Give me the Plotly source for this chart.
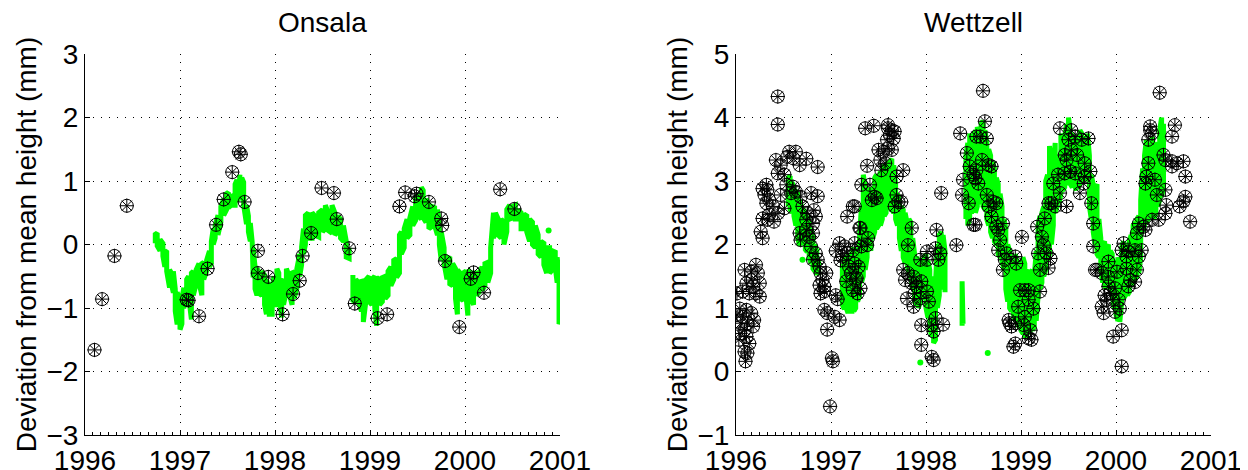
import plotly.graph_objects as go

# ---------------- data ----------------
x_ticks = [1996, 1997, 1998, 1999, 2000, 2001]
x_tick_text = ["1996", "1997", "1998", "1999", "2000", "2001"]
onsala_yticks = [-3, -2, -1, 0, 1, 2, 3]
wettzell_yticks = [-1, 0, 1, 2, 3, 4, 5]
titles = ["Onsala", "Wettzell"]
y_title = "Deviation from mean height (mm)"

# Onsala: green series, daily spread given as low / high per sample (None = gap)
onsala_line_year = [
    1996.74, 1996.76, 1996.79, 1996.82, 1996.84, 1996.86, 1996.89, 1996.91, 1996.93, 1996.95,
    1996.97, 1997.00, 1997.02, 1997.04, 1997.07, 1997.09, 1997.12, 1997.14, 1997.17, 1997.20,
    1997.23, 1997.25, 1997.28, 1997.31, 1997.33, 1997.35, 1997.37, 1997.40, 1997.43, 1997.46,
    1997.49, 1997.51, 1997.54, 1997.56, 1997.58, 1997.60, 1997.62, 1997.63, 1997.65, 1997.67,
    1997.70, 1997.72, 1997.74, 1997.76, 1997.77, 1997.79, 1997.81, 1997.84, 1997.86, 1997.89,
    1997.91, 1997.94, 1997.97, 1997.99, 1998.02, 1998.04, 1998.07, 1998.09, 1998.12, 1998.15,
    1998.18, 1998.20, 1998.23, 1998.26, 1998.28, 1998.30, 1998.32, 1998.35, 1998.39, 1998.42,
    1998.46, 1998.50, 1998.53, 1998.56, 1998.60, 1998.63, 1998.66, 1998.69, 1998.72, 1998.75,
    1998.78, None,
    1998.82, 1998.85, 1998.88, 1998.91, 1998.93, 1998.96, 1998.99, 1999.02, 1999.05, 1999.07,
    1999.10, 1999.13, 1999.16, 1999.19, 1999.22, 1999.25, 1999.28, 1999.31, 1999.33, 1999.36,
    1999.39, 1999.42, 1999.45, 1999.48, 1999.51, 1999.54, 1999.56, 1999.59, 1999.62, 1999.65,
    1999.68, 1999.71, 1999.73, 1999.75, 1999.78, 1999.81, 1999.84, 1999.87, 1999.90, 1999.92,
    1999.95, 1999.98, 2000.01, 2000.03, 2000.06, 2000.09, 2000.12, 2000.15, 2000.18, 2000.21,
    2000.24, 2000.27, 2000.30, 2000.32, 2000.35, 2000.38, 2000.41, 2000.44, 2000.47, 2000.50,
    2000.53, 2000.56, 2000.59, 2000.62, 2000.65, 2000.68, 2000.71, 2000.74, 2000.77, 2000.80,
    2000.83, 2000.86, 2000.89, 2000.92, 2000.95, 2000.97, 2000.99, 2001.01,
]
onsala_line_low = [
    0.02, -0.02, -0.10, -0.18, -0.35, -0.42, -0.68, -0.62, -0.76, -1.05,
    -1.26, -1.34, -1.25, -1.00, -0.85, -0.80, -1.18, -0.80, -0.62, -0.60,
    -0.80, -0.55, -0.42, -0.35, -0.30, 0.00, 0.10, 0.15, 0.35, 0.46,
    0.55, 0.58, 0.62, 0.62, 0.62, 0.68, 0.78, 0.82, 0.70, 0.62,
    0.32, 0.20, 0.05, -0.25, -0.52, -0.70, -0.80, -0.78, -0.80, -0.95,
    -1.10, -1.10, -1.10, -0.95, -0.95, -0.75, -1.15, -0.95, -0.72, -0.78,
    -0.95, -0.85, -0.70, -0.50, -0.32, -0.15, 0.00, 0.10, 0.10, 0.15,
    0.12, 0.20, 0.25, 0.22, 0.18, 0.15, 0.20, 0.10, 0.05, -0.20,
    -0.22, None,
    -0.88, -0.92, -0.90, -1.05, -1.22, -0.85, -0.90, -0.95, -1.00, -1.28,
    -0.95, -0.90, -0.85, -0.80, -0.65, -0.55, -0.52, -0.45, -0.15, -0.05,
    0.10, 0.15, 0.30, 0.38, 0.45, 0.40, 0.42, 0.35, 0.25, 0.28,
    0.30, 0.15, 0.00, -0.25, -0.30, -0.55, -0.62, -0.65, -0.85, -1.10,
    -0.85, -0.88, -0.80, -1.12, -0.85, -0.95, -0.80, -0.75, -0.72, -0.65,
    -0.60, -0.45, 0.10, 0.20, 0.15, 0.10, 0.00, 0.20, 0.40, 0.42,
    0.40, 0.40, 0.25, 0.25, 0.20, 0.05, 0.00, -0.05, -0.15, -0.20,
    -0.32, -0.45, -0.45, -0.40, -0.35, -0.60, -1.25, -1.20,
]
onsala_line_high = [
    0.16, 0.18, 0.08, 0.02, -0.10, -0.12, -0.40, -0.45, -0.42, -0.70,
    -0.75, -0.90, -0.85, -0.68, -0.55, -0.50, -0.45, -0.42, -0.40, -0.30,
    -0.30, -0.28, -0.25, -0.10, 0.05, 0.25, 0.30, 0.46, 0.60, 0.72,
    0.80, 0.82, 0.78, 0.76, 0.95, 1.02, 1.08, 1.10, 1.05, 0.98,
    0.62, 0.45, 0.34, 0.04, -0.05, -0.35, -0.38, -0.45, -0.42, -0.48,
    -0.55, -0.70, -0.68, -0.50, -0.38, -0.45, -0.58, -0.55, -0.38, -0.50,
    -0.42, -0.45, -0.38, -0.15, -0.04, 0.25, 0.46, 0.50, 0.50, 0.45,
    0.50, 0.55, 0.62, 0.50, 0.62, 0.50, 0.45, 0.40, 0.30, 0.05,
    -0.05, None,
    -0.48, -0.55, -0.60, -0.55, -0.60, -0.55, -0.50, -0.55, -0.50, -0.52,
    -0.55, -0.52, -0.50, -0.42, -0.35, -0.25, -0.22, 0.15, 0.20, 0.25,
    0.40, 0.42, 0.60, 0.72, 0.80, 0.90, 0.85, 0.72, 0.62, 0.60,
    0.58, 0.55, 0.35, 0.20, -0.05, -0.20, -0.22, -0.30, -0.38, -0.40,
    -0.45, -0.45, -0.42, -0.40, -0.45, -0.45, -0.45, -0.45, -0.35, -0.30,
    -0.28, -0.05, 0.50, 0.50, 0.40, 0.40, 0.35, 0.55, 0.62, 0.60,
    0.62, 0.55, 0.50, 0.48, 0.45, 0.40, 0.35, 0.30, 0.15, 0.05,
    0.02, -0.05, -0.05, -0.10, -0.12, -0.20, -0.50, -0.90,
]
onsala_dot_year = [2000.88]
onsala_dot_value = [0.22]

# Onsala: black marker series
onsala_mark_year = [
    1996.10, 1996.18, 1996.31, 1996.44, 1997.07, 1997.09, 1997.20, 1997.29, 1997.38, 1997.46,
    1997.55, 1997.62, 1997.64, 1997.68, 1997.82, 1997.82, 1997.93, 1998.08, 1998.19, 1998.26,
    1998.29, 1998.38, 1998.49, 1998.62, 1998.65, 1998.78, 1998.84, 1999.08, 1999.18, 1999.31,
    1999.37, 1999.47, 1999.49, 1999.62, 1999.75, 1999.76, 1999.79, 1999.94, 2000.06, 2000.09,
    2000.20, 2000.37, 2000.52,
]
onsala_mark_value = [
    -1.66, -0.86, -0.18, 0.61, -0.87, -0.88, -1.13, -0.38, 0.31, 0.71,
    1.14, 1.46, 1.42, 0.67, -0.10, -0.45, -0.51, -1.10, -0.78, -0.57,
    -0.18, 0.18, 0.89, 0.81, 0.40, -0.06, -0.93, -1.16, -1.10, 0.60,
    0.82, 0.76, 0.80, 0.67, 0.41, 0.30, -0.26, -1.30, -0.54, -0.44,
    -0.76, 0.87, 0.56,
]

# Wettzell: green series (low / high per sample, None = gap)
wettzell_line_year = [
    1996.55, 1996.57, 1996.59, 1996.61, 1996.63, 1996.65, 1996.67, 1996.69, 1996.71, 1996.73,
    1996.75, 1996.77, 1996.79, 1996.81, 1996.83, 1996.85, 1996.87, None,
    1997.12, 1997.14, 1997.16, 1997.18, 1997.20, 1997.22, 1997.24, 1997.26, 1997.28, 1997.30,
    1997.32, 1997.34, 1997.36, 1997.38, 1997.40, 1997.42, 1997.44, 1997.46, 1997.48, 1997.50,
    1997.52, 1997.54, 1997.56, 1997.58, 1997.60, 1997.62, 1997.64, 1997.66, 1997.68, 1997.70,
    1997.72, 1997.74, 1997.76, 1997.78, 1997.80, 1997.82, 1997.84, 1997.86, 1997.88, 1997.90,
    1997.92, 1997.94, 1997.96, 1997.98, 1998.00, 1998.02, 1998.04, 1998.06, 1998.08, 1998.10,
    1998.12, 1998.14, 1998.16, 1998.18, 1998.20, None,
    1998.38, 1998.39, None,
    1998.42, 1998.44, 1998.46, 1998.48, 1998.50, 1998.52, 1998.54, 1998.56, 1998.58, 1998.60,
    1998.62, 1998.64, 1998.66, 1998.68, 1998.70, 1998.72, 1998.74, 1998.76, 1998.78, 1998.80,
    1998.82, 1998.84, 1998.86, 1998.88, 1998.90, 1998.92, 1998.94, 1998.96, 1998.98, 1999.00,
    1999.02, 1999.04, 1999.06, 1999.08, 1999.10, 1999.12, 1999.14, 1999.16, 1999.18, 1999.20,
    1999.22, 1999.24, 1999.26, 1999.28, 1999.30, 1999.32, 1999.34, 1999.36, 1999.38, 1999.40,
    1999.42, 1999.44, 1999.46, 1999.48, 1999.50, 1999.52, 1999.54, 1999.56, 1999.58, 1999.60,
    1999.62, 1999.64, 1999.66, 1999.68, 1999.70, 1999.72, 1999.74, 1999.76, 1999.78, 1999.80,
    1999.82, 1999.84, 1999.86, 1999.88, 1999.90, 1999.92, 1999.94, 1999.96, 1999.98, 2000.00,
    2000.02, 2000.04, 2000.06, 2000.08, 2000.10, 2000.12, 2000.14, 2000.16, 2000.18, 2000.20,
    2000.22, 2000.24, 2000.26, 2000.28, 2000.30, 2000.32, 2000.34, 2000.36, 2000.38, 2000.40,
    2000.42, 2000.44, 2000.46, 2000.48, 2000.50,
]
wettzell_line_low = [
    2.60, 2.55, 2.50, 2.45, 2.30, 2.10, 1.98, 2.05, 2.00, 1.92,
    1.88, 1.80, 1.70, 1.62, 1.58, 1.55, 1.55, None,
    1.05, 0.98, 1.00, 0.92, 0.95, 0.95, 0.95, 1.00, 1.10, 1.20,
    1.40, 1.50, 1.60, 1.80, 2.00, 1.90, 2.10, 2.20, 2.25, 2.30,
    2.30, 2.40, 2.45, 2.50, 2.55, 2.60, 2.55, 2.50, 2.40, 2.30,
    2.10, 1.90, 1.80, 1.70, 1.70, 1.55, 1.50, 1.30, 1.10, 1.05,
    1.00, 1.10, 1.20, 1.15, 1.00, 0.85, 0.70, 0.55, 0.45, 0.50,
    1.00, 1.20, 1.30, 1.40, 1.25, None,
    0.72, 0.75, None,
    2.40, 2.30, 2.40, 2.50, 2.55, 2.50, 2.60, 2.70, 2.65, 2.60,
    2.55, 2.40, 2.30, 2.20, 2.10, 2.05, 2.00, 1.85, 1.80, 1.75,
    1.60, 1.30, 1.10, 1.00, 0.95, 0.90, 0.80, 0.75, 0.70, 0.65,
    0.60, 0.55, 0.55, 0.60, 0.65, 0.65, 0.70, 0.80, 1.20, 1.30,
    1.40, 1.50, 1.60, 1.75, 1.85, 2.00, 2.30, 2.50, 2.60, 2.65,
    2.80, 2.85, 2.90, 2.95, 3.00, 2.95, 2.90, 2.95, 2.85, 2.90,
    2.95, 3.00, 3.05, 3.00, 3.10, 2.60, 2.40, 2.20, 2.00, 1.85,
    1.80, 1.60, 1.40, 1.35, 1.30, 1.35, 1.30, 1.20, 1.00, 0.90,
    0.80, 0.78, 1.10, 1.15, 1.20, 1.20, 1.25, 1.35, 1.40, 1.45,
    1.50, 1.55, 1.80, 2.20, 2.30, 2.35, 2.40, 2.45, 2.45, 2.40,
    2.50, 2.60, 2.70, 2.75, 2.90,
]
wettzell_line_high = [
    3.05, 3.08, 2.98, 2.90, 2.85, 2.80, 2.70, 2.60, 2.55, 2.50,
    2.45, 2.35, 2.25, 2.10, 2.00, 1.90, 1.75, None,
    1.70, 1.80, 1.75, 1.85, 1.80, 1.90, 1.95, 1.85, 1.95, 2.10,
    2.60, 3.10, 2.90, 2.75, 2.90, 2.80, 2.90, 3.05, 3.10, 3.00,
    3.15, 3.20, 3.25, 3.20, 3.30, 3.30, 3.35, 3.25, 2.95, 2.80,
    2.70, 2.60, 2.55, 2.50, 2.35, 2.40, 2.35, 2.10, 1.85, 1.80,
    1.75, 1.70, 1.75, 1.80, 1.85, 1.75, 1.60, 1.50, 1.20, 1.40,
    2.00, 2.15, 2.20, 2.15, 1.90, None,
    1.42, 1.40, None,
    3.40, 3.60, 3.75, 3.60, 3.70, 3.80, 3.85, 3.75, 3.90, 3.95,
    3.80, 3.60, 3.50, 3.40, 3.30, 3.20, 3.05, 2.95, 2.80, 2.60,
    2.40, 2.25, 2.00, 1.90, 1.80, 1.75, 1.85, 1.70, 1.65, 1.75,
    1.80, 1.70, 1.55, 1.60, 1.55, 1.60, 1.50, 1.90, 2.30, 2.45,
    2.50, 2.60, 3.00, 3.10, 3.55, 3.20, 3.25, 3.60, 3.30, 3.40,
    3.75, 3.55, 3.70, 3.90, 4.00, 3.80, 3.75, 3.60, 3.70, 3.55,
    3.80, 3.75, 3.70, 3.60, 3.75, 3.40, 3.10, 2.95, 2.90, 2.95,
    2.40, 2.10, 2.00, 2.05, 1.95, 2.00, 1.90, 1.85, 1.75, 1.70,
    1.80, 1.65, 1.95, 2.05, 1.95, 2.00, 2.05, 2.15, 2.30, 2.35,
    2.40, 2.45, 2.70, 3.20, 3.40, 3.65, 3.50, 3.60, 3.70, 3.40,
    3.55, 3.60, 3.80, 4.00, 3.90,
]
wettzell_dot_year = [1996.70, 1997.94, 1998.65]
wettzell_dot_value = [1.76, 0.14, 0.29]

# Wettzell: black marker series
wettzell_mark_year = [
    1996.44, 1996.44, 1996.56, 1996.63, 1996.54, 1996.60, 1996.42, 1996.47, 1996.44, 1996.51,
    1996.67, 1996.74, 1996.86, 1996.32, 1996.33, 1996.28, 1996.30, 1996.35, 1996.32, 1996.47,
    1996.53, 1996.60, 1996.58, 1996.63, 1996.68, 1996.79, 1996.86, 1996.39, 1996.51, 1996.44,
    1996.35, 1996.28, 1996.33, 1996.40, 1996.26, 1996.28, 1996.70, 1996.75, 1996.82, 1996.74,
    1996.81, 1996.84, 1996.67, 1996.74, 1996.68, 1996.77, 1996.81, 1996.79, 1996.84, 1996.81,
    1996.86, 1996.88, 1996.89, 1996.95, 1996.91, 1996.88, 1996.93, 1996.89, 1996.93, 1997.05,
    1997.07, 1996.93, 1996.96, 1997.04, 1997.09, 1996.96, 1997.01, 1997.02, 1996.99, 1996.09,
    1996.16, 1996.21, 1996.23, 1996.16, 1996.11, 1996.18, 1996.25, 1996.21, 1996.25, 1996.14,
    1996.07, 1996.01, 1996.04, 1996.11, 1996.16, 1996.19, 1996.07, 1996.05, 1996.12, 1996.18,
    1996.09, 1996.04, 1996.11, 1996.14, 1996.09, 1996.10, 1996.12, 1996.01, 1996.03,
    1997.09, 1997.14, 1997.12, 1997.17, 1997.23, 1997.19, 1997.21, 1997.16, 1997.23, 1997.28,
    1997.26, 1997.17, 1997.23, 1997.30, 1997.05, 1997.10,
    1997.36, 1997.45, 1997.60, 1997.64, 1997.62, 1997.66, 1997.59, 1997.67, 1997.60, 1997.50,
    1997.55, 1997.60, 1997.52, 1997.57, 1997.64, 1997.38, 1997.53, 1997.76, 1997.69, 1997.32,
    1997.41, 1997.46, 1997.43, 1997.48, 1997.69, 1997.71, 1997.74, 1997.67, 1997.25, 1997.31,
    1997.39, 1997.25, 1997.32, 1997.38, 1997.25, 1997.29, 1997.27, 1997.31, 1997.85, 1997.81,
    1997.76, 1997.81, 1997.87, 1997.94, 1998.01, 1997.78, 1997.85, 1997.90, 1997.95, 1997.88,
    1997.80, 1997.87, 1997.94, 1998.01, 1998.03, 1997.95, 1998.06, 1998.18, 1998.08, 1998.10,
    1997.95, 1998.06, 1998.08, 1998.11, 1998.10, 1998.15, 1998.13, 1998.01, 1998.32, 1998.16,
    1998.36, 1998.43, 1998.53, 1998.38, 1998.45, 1998.50, 1998.50, 1998.39, 1998.46,
    1998.60, 1998.62, 1998.57, 1998.64, 1998.59, 1998.66, 1998.69, 1998.53, 1998.52, 1998.55,
    1998.64, 1998.71, 1998.74, 1998.66, 1998.69, 1998.74, 1998.81, 1998.76, 1998.52, 1998.78,
    1998.76, 1998.83, 1998.81, 1998.85, 1998.94, 1998.95, 1999.01, 1998.87, 1998.90, 1998.94,
    1998.88, 1998.92, 1998.94, 1998.99, 1999.04, 1999.08, 1999.20, 1998.97, 1999.08, 1999.13,
    1999.04, 1999.10, 1999.11, 1999.08, 1999.03, 1999.17, 1999.22, 1999.25, 1999.24, 1999.18,
    1999.27, 1999.31, 1999.20, 1999.29, 1999.32, 1999.36, 1999.29, 1999.48, 1999.41, 1999.34,
    1999.39, 1999.46, 1999.52, 1999.57, 1999.66, 1999.62, 1999.67, 1999.73, 1999.41, 1999.53,
    1999.57, 1999.64, 1999.71, 1999.50, 1999.53, 1999.59, 1999.67, 1999.46, 1999.48, 1999.74,
    1999.76, 1999.76, 1999.78,
    2000.46, 2000.62, 2000.59, 2000.36, 2000.38, 2000.34, 2000.36, 2000.50, 2000.52, 2000.59,
    2000.64, 2000.71, 2000.59, 2000.73, 2000.34, 2000.32, 2000.31, 2000.41, 2000.43, 2000.52,
    2000.53, 2000.52, 2000.45, 2000.67, 2000.73, 2000.71, 2000.78, 2000.24, 2000.29, 2000.22,
    2000.31, 2000.38, 2000.08, 2000.13, 2000.20, 2000.27, 2000.11, 2000.24, 2000.06, 1999.92,
    1999.80, 1999.85, 2000.01, 2000.11, 2000.22, 1999.92, 2000.15, 2000.20, 2000.13, 1999.92,
    1999.99, 1999.94, 1999.90, 1999.97, 2000.03, 1999.88, 1999.85, 2000.04, 1999.99, 1999.87,
    2000.06, 1999.97, 2000.06,
]
wettzell_mark_value = [
    4.33, 3.89, 3.46, 3.46, 3.38, 3.36, 3.33, 3.25, 3.12, 3.10,
    3.25, 3.35, 3.22, 2.94, 2.86, 2.88, 2.78, 2.70, 2.65, 2.78,
    2.94, 2.91, 2.81, 2.83, 2.75, 2.81, 2.76, 2.60, 2.57, 2.49,
    2.47, 2.41, 2.39, 2.36, 2.20, 2.10, 2.60, 2.49, 2.54, 2.39,
    2.33, 2.44, 2.18, 2.23, 2.07, 2.12, 2.18, 1.97, 1.86, 1.76,
    1.76, 1.65, 1.55, 1.55, 1.44, 1.36, 1.34, 1.23, 1.26, 1.20,
    1.14, 0.97, 0.92, 0.86, 0.81, 0.66, 0.21, 0.16, -0.55, 1.60,
    1.57, 1.68, 1.55, 1.44, 1.39, 1.34, 1.39, 1.23, 1.18, 1.23,
    1.26, 1.23, 0.99, 0.97, 0.92, 0.81, 0.86, 0.76, 0.76, 0.71,
    0.65, 0.60, 0.55, 0.44, 0.31, 0.16, 0.29, 0.89, 0.50,
    2.02, 1.97, 1.81, 1.86, 1.91, 1.65, 1.55, 1.42, 1.28, 1.23,
    1.44, 2.44, 2.60, 2.26, 1.90, 1.75,
    3.83, 3.87, 3.83, 3.80, 3.72, 3.67, 3.65, 3.78, 3.88, 3.49,
    3.46, 3.51, 3.33, 3.28, 3.49, 3.24, 3.17, 3.17, 3.07, 2.94,
    2.94, 2.75, 2.70, 2.73, 2.78, 2.67, 2.67, 2.60, 2.60, 2.26,
    2.10, 2.02, 1.97, 1.99, 1.70, 1.65, 1.47, 1.31, 2.26, 1.99,
    1.60, 1.55, 1.49, 1.76, 1.76, 1.44, 1.39, 1.34, 1.42, 1.23,
    1.15, 1.02, 1.15, 1.26, 1.10, 0.73, 0.73, 0.74, 0.63, 0.84,
    0.42, 0.23, 0.18, 2.23, 1.94, 1.86, 1.76, 1.89, 1.99, 2.81,
    3.75, 3.44, 3.70, 2.78, 2.65, 3.10, 2.31, 3.02, 3.23,
    4.42, 3.94, 3.70, 3.67, 3.33, 3.25, 3.23, 3.17, 3.04, 2.96,
    2.78, 2.67, 2.65, 2.60, 2.44, 2.28, 2.33, 2.23, 2.31, 2.07,
    1.91, 1.76, 1.60, 1.86, 1.81, 1.70, 2.12, 0.81, 0.71, 0.76,
    0.76, 0.39, 0.44, 1.28, 1.28, 1.28, 1.26, 1.02, 1.13, 0.99,
    0.86, 0.65, 0.50, 0.52, 0.73, 2.28, 2.12, 2.41, 1.99, 1.86,
    1.86, 1.78, 1.60, 1.63, 2.65, 2.60, 2.65, 2.60, 2.81, 2.96,
    3.10, 3.12, 3.15, 3.12, 2.96, 2.81, 3.07, 3.15, 3.83, 3.80,
    3.70, 3.65, 3.67, 3.65, 3.49, 3.41, 3.28, 3.41, 3.33, 2.65,
    2.33, 1.97, 1.60,
    4.39, 3.88, 3.70, 3.80, 3.75, 3.65, 3.86, 3.41, 3.33, 3.31,
    3.28, 3.31, 3.23, 3.07, 3.28, 3.07, 2.96, 3.02, 2.78, 2.86,
    2.62, 2.49, 2.39, 2.60, 2.75, 2.68, 2.36, 2.33, 2.28, 2.18,
    2.23, 2.39, 2.02, 1.89, 1.91, 1.91, 1.81, 1.81, 1.91, 1.73,
    1.60, 1.55, 1.57, 1.62, 1.60, 1.49, 1.44, 1.41, 1.34, 1.34,
    1.31, 1.23, 1.13, 1.13, 1.13, 1.20, 1.02, 0.99, 0.94, 0.92,
    0.65, 0.55, 0.08,
]

# ---------------- figure ----------------
FONT = "Liberation Sans, Arial, Helvetica, sans-serif"
GREEN = "#00ff00"


def band_path(years, lows, highs):
    xs, ys = [], []
    k = 0
    for yr, lo, hi in zip(years, lows, highs):
        if yr is None:
            xs.append(None)
            ys.append(None)
            continue
        pair = (lo, hi) if k % 2 == 0 else (hi, lo)
        xs += [yr, yr]
        ys += list(pair)
        k += 1
    return xs, ys


fig = go.Figure()

panels = [
    ("x", "y", onsala_line_year, onsala_line_low, onsala_line_high,
     onsala_dot_year, onsala_dot_value, onsala_mark_year, onsala_mark_value),
    ("x2", "y2", wettzell_line_year, wettzell_line_low, wettzell_line_high,
     wettzell_dot_year, wettzell_dot_value, wettzell_mark_year, wettzell_mark_value),
]
for xa, ya, ly, llo, lhi, dy, dv, my, mv in panels:
    bx, by = band_path(ly, llo, lhi)
    fig.add_trace(go.Scatter(x=bx, y=by, xaxis=xa, yaxis=ya, mode="lines",
                             line=dict(color=GREEN, width=5), connectgaps=False,
                             showlegend=False, hoverinfo="skip"))
    fig.add_trace(go.Scatter(x=dy, y=dv, xaxis=xa, yaxis=ya, mode="markers",
                             marker=dict(color=GREEN, size=6), showlegend=False))
    fig.add_trace(go.Scatter(x=my, y=mv, xaxis=xa, yaxis=ya, mode="markers",
                             marker=dict(symbol="circle-open", size=13,
                                         color="black", line=dict(width=1, color="black")),
                             showlegend=False))
    fig.add_trace(go.Scatter(x=my, y=mv, xaxis=xa, yaxis=ya, mode="markers",
                             marker=dict(symbol="asterisk-open", size=12,
                                         color="black", line=dict(width=1, color="black")),
                             showlegend=False))

# The page body adds an 8 px margin, so the layout positions below are
# shifted by that amount (figure pixels = window pixels - 8).
OFF = 8
W, H = 1248, 470
common_x = dict(range=[x_ticks[0], x_ticks[-1]], tickmode="array", tickvals=x_ticks,
                ticktext=x_tick_text, showgrid=True, gridcolor="black", gridwidth=1,
                griddash="1px,7px", zeroline=False, showline=True, linecolor="black",
                linewidth=1, ticks="inside", ticklen=5, tickcolor="black",
                tickfont=dict(size=28, color="black", family=FONT),
                minor=dict(tickmode="linear", tick0=1996, dtick=1 / 12, ticks="inside",
                           ticklen=3, tickcolor="black", showgrid=False),
                automargin=False, fixedrange=True)
common_y = dict(tickmode="array", showgrid=True, gridcolor="black", gridwidth=1,
                griddash="1px,7px", zeroline=False, showline=True, linecolor="black",
                linewidth=1, ticks="inside", ticklen=5, tickcolor="black",
                tickfont=dict(size=28, color="black", family=FONT),
                title=dict(text=y_title, font=dict(size=28, color="black", family=FONT),
                           standoff=1),
                automargin=False, fixedrange=True)

x1d = [(85 - OFF) / W, (560 - OFF) / W]
x2d = [(736 - OFF) / W, (1211 - OFF) / W]
yd = [(H - (435 - OFF)) / H, (H - (54 - OFF)) / H]

fig.update_layout(
    width=W, height=H,
    margin=dict(l=0, r=0, t=0, b=0),
    paper_bgcolor="white", plot_bgcolor="white",
    font=dict(family=FONT, color="black", size=28),
    xaxis=dict(domain=x1d, anchor="y", **common_x),
    xaxis2=dict(domain=x2d, anchor="y2", **common_x),
    yaxis=dict(domain=yd, anchor="x", range=[onsala_yticks[0], onsala_yticks[-1]],
               tickvals=onsala_yticks, **common_y),
    yaxis2=dict(domain=yd, anchor="x2", range=[wettzell_yticks[0], wettzell_yticks[-1]],
                tickvals=wettzell_yticks, **common_y),
    annotations=[
        dict(text=titles[0], x=sum(x1d) / 2, y=(H - (22 - OFF)) / H, xref="paper",
             yref="paper", xanchor="center", yanchor="middle", showarrow=False,
             font=dict(size=28, color="black", family=FONT)),
        dict(text=titles[1], x=sum(x2d) / 2, y=(H - (22 - OFF)) / H, xref="paper",
             yref="paper", xanchor="center", yanchor="middle", showarrow=False,
             font=dict(size=28, color="black", family=FONT)),
    ],
)

fig.write_html("out.html")
